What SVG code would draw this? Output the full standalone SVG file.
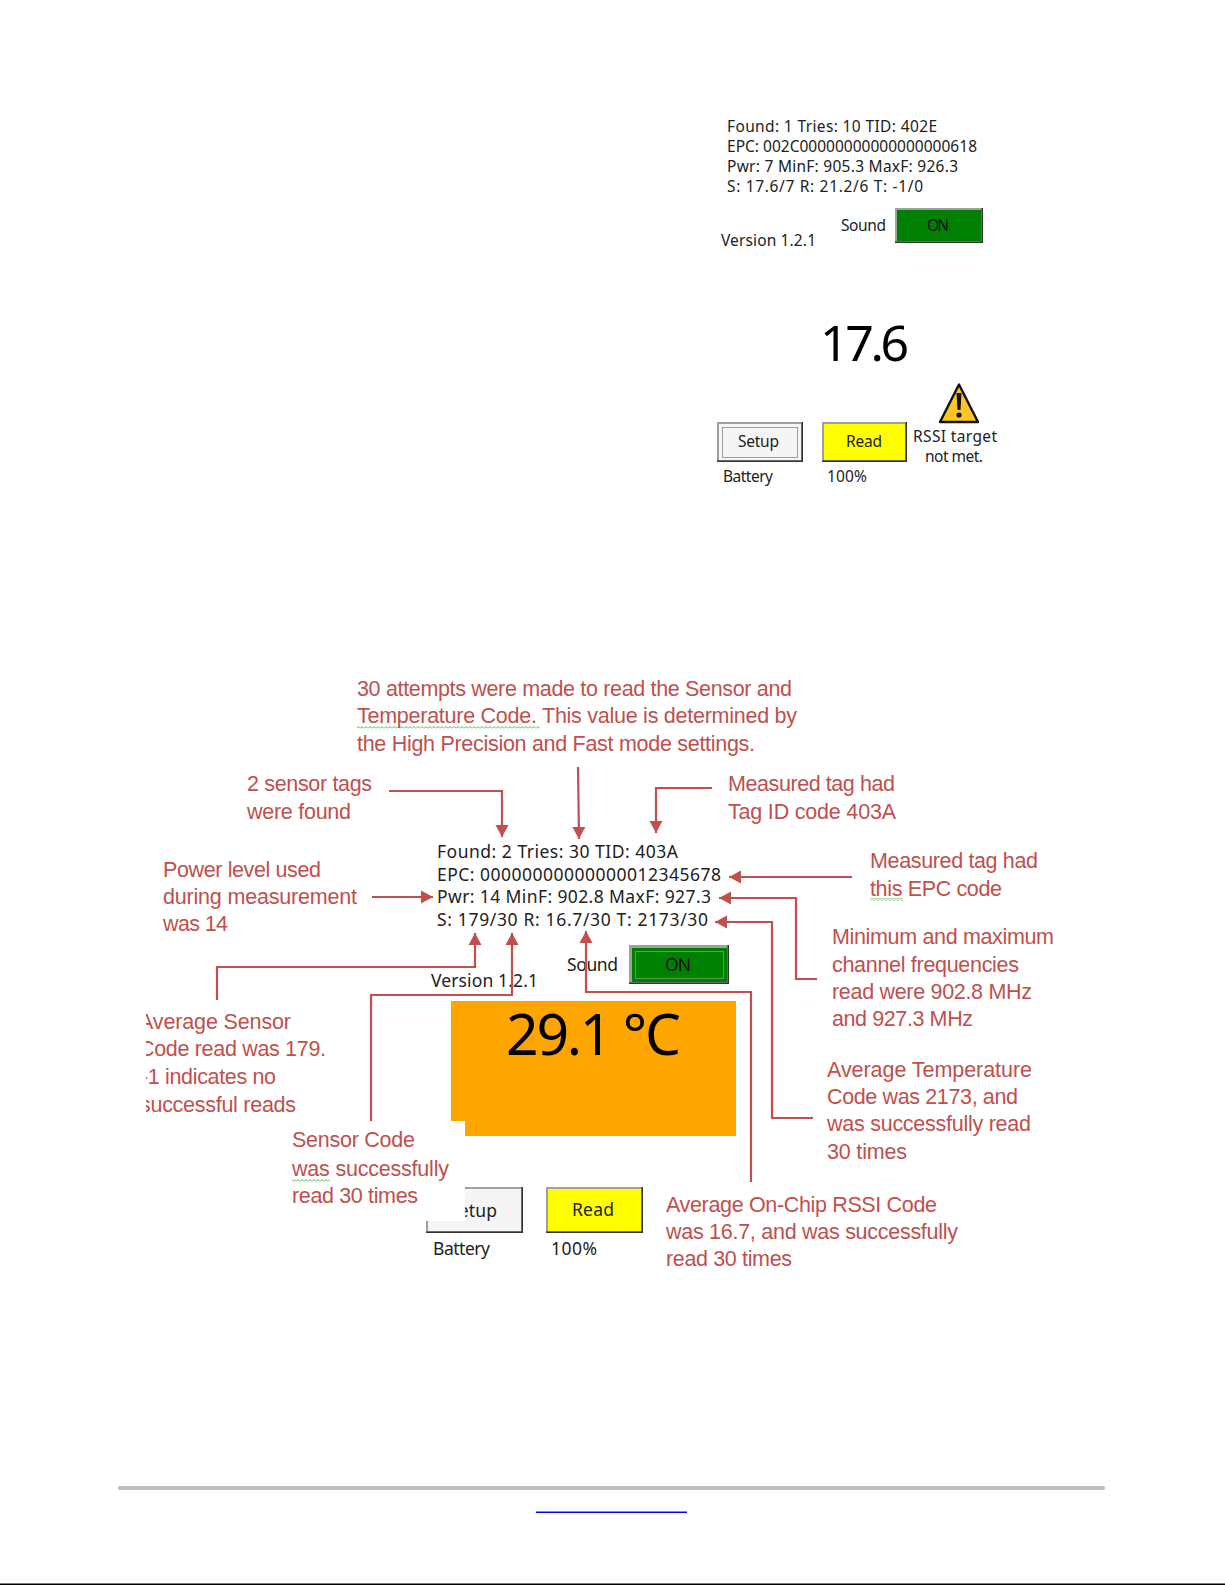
<svg xmlns="http://www.w3.org/2000/svg" width="1225" height="1585" viewBox="0 0 1225 1585">
<style>
text{font-family:"Noto Sans","DejaVu Sans",sans-serif}
.d{font-size:15.500px;fill:#222}
.d2{font-size:17.500px;fill:#222}
.n{font-family:"Liberation Sans",Arial,sans-serif;font-size:21.500px;fill:#c0504d}
.big{fill:#000}
.c{fill:none;stroke:#c0504d;stroke-width:2.200}
.dots{fill:none;stroke:#444;stroke-width:1;stroke-dasharray:1 1}
</style>
<defs>
<marker id="arrow" markerUnits="userSpaceOnUse" markerWidth="14" markerHeight="14" refX="12" refY="7" orient="auto">
<path d="M0,0.500L12,7L0,13.500Z" fill="#c0504d"/>
</marker>
<pattern id="sq" width="4" height="3" patternUnits="userSpaceOnUse">
<path d="M0,2.500L2,0.500L4,2.500" fill="none" stroke="#3cb043" stroke-width="0.900"/>
</pattern>
<clipPath id="leftclip"><rect x="146" y="1000" width="300" height="130"/></clipPath>
</defs>
<rect width="1225" height="1585" fill="#fff"/>

<g id="screen-top">
<text class="d" x="727" y="131.500" textLength="210">Found: 1 Tries: 10 TID: 402E</text>
<text class="d" x="727" y="151.500" textLength="250">EPC: 002C00000000000000000618</text>
<text class="d" x="727" y="171.500" textLength="231">Pwr: 7 MinF: 905.3 MaxF: 926.3</text>
<text class="d" x="727" y="191.500" textLength="196">S: 17.6/7 R: 21.2/6 T: -1/0</text>
<text class="d" x="841" y="230.500" textLength="45">Sound</text>
<text class="d" x="721" y="245.500" textLength="95">Version 1.2.1</text>
<g id="top-sound-btn">
<rect x="895" y="208" width="88" height="35" fill="#333"/>
<rect x="895" y="208" width="86.500" height="33.500" fill="#a0a0a0"/>
<rect x="897" y="210" width="84" height="31" fill="#008000"/>
<text class="d" x="927" y="230.500" textLength="22" style="fill:#111">ON</text>
</g>
<text class="big" x="820" y="361" font-size="50" textLength="89">17.6</text>
<g id="top-warning">
<path d="M959,384.500L940,422H978Z" fill="#fdc723" stroke="#111" stroke-width="2.400" stroke-linejoin="round"/>
<path d="M956.500,393H961.500L960.500,410H957.500Z" fill="#111"/>
<circle cx="959" cy="415" r="2.600" fill="#111"/>
</g>
<g id="top-setup-btn">
<rect x="717" y="422" width="86" height="40" fill="#333"/>
<rect x="717" y="422" width="84.500" height="38.500" fill="#a0a0a0"/>
<rect x="719" y="424" width="82" height="36" fill="#f5f5f5"/>
<rect x="722.500" y="427.500" width="75" height="30" class="dots"/>
<text class="d" x="738" y="446.500" textLength="41">Setup</text>
</g>
<g id="top-read-btn">
<rect x="822" y="422" width="85" height="40" fill="#333"/>
<rect x="822" y="422" width="83.500" height="38.500" fill="#a0a0a0"/>
<rect x="824" y="424" width="81" height="36" fill="#ffff00"/>
<text class="d" x="846" y="446.500" textLength="36">Read</text>
</g>
<text class="d" x="913" y="442" textLength="84">RSSI target</text>
<text class="d" x="925" y="462" textLength="58">not met.</text>
<text class="d" x="723" y="482" textLength="50">Battery</text>
<text class="d" x="827" y="482" textLength="40">100%</text>
</g>

<g id="screen-bottom">
<text class="d2" x="437" y="857.500" textLength="241">Found: 2 Tries: 30 TID: 403A</text>
<text class="d2" x="437" y="880.500" textLength="284">EPC: 00000000000000012345678</text>
<text class="d2" x="437" y="902.500" textLength="274">Pwr: 14 MinF: 902.8 MaxF: 927.3</text>
<text class="d2" x="437" y="926" textLength="271">S: 179/30 R: 16.7/30 T: 2173/30</text>
<text class="d2" x="431" y="987" textLength="107">Version 1.2.1</text>
<text class="d2" x="567" y="970.500" textLength="51">Sound</text>
<g id="bottom-sound-btn">
<rect x="629" y="945" width="100" height="39" fill="#333"/>
<rect x="629" y="945" width="98.500" height="37.500" fill="#a0a0a0"/>
<rect x="632" y="948" width="95" height="34" fill="#008000"/>
<rect x="635.500" y="951.500" width="88" height="27" class="dots" style="stroke:#9c9"/>
<text class="d2" x="665" y="970.500" textLength="26" style="fill:#111">ON</text>
</g>
<rect id="temp-panel" x="451" y="1001" width="285" height="135" fill="#ffa500"/>
<text class="big" x="506" y="1055" font-size="57" textLength="175">29.1 °C</text>
<g id="bottom-setup-btn">
<rect x="426" y="1187" width="97" height="46" fill="#333"/>
<rect x="426" y="1187" width="95.500" height="44.500" fill="#a0a0a0"/>
<rect x="428" y="1189" width="93" height="42" fill="#f5f5f5"/>
<text class="d2" x="449" y="1217" textLength="48">Setup</text>
</g>
<g id="bottom-read-btn">
<rect x="546" y="1187" width="97" height="46" fill="#333"/>
<rect x="546" y="1187" width="95.500" height="44.500" fill="#a0a0a0"/>
<rect x="548" y="1189" width="93" height="42" fill="#ffff00"/>
<text class="d2" x="572" y="1216" textLength="42">Read</text>
</g>
<text class="d2" x="433" y="1255" textLength="57">Battery</text>
<text class="d2" x="551" y="1255" textLength="46">100%</text>
<rect id="callout-mask" x="286" y="1121" width="179" height="100" fill="#fff"/>
</g>

<g id="connectors">
<path class="c" marker-end="url(#arrow)" d="M389,791H502V837"/>
<path class="c" marker-end="url(#arrow)" d="M578,767L579,839"/>
<path class="c" marker-end="url(#arrow)" d="M712,788H656V833"/>
<path class="c" marker-end="url(#arrow)" d="M372,897H433"/>
<path class="c" marker-end="url(#arrow)" d="M852,877H729"/>
<path class="c" marker-end="url(#arrow)" d="M817,979H796V898H719"/>
<path class="c" marker-end="url(#arrow)" d="M813,1118H772V922H715"/>
<path class="c" marker-end="url(#arrow)" d="M217,1000V967H475V933"/>
<path class="c" marker-end="url(#arrow)" d="M371,1121V995H512V933"/>
<path class="c" marker-end="url(#arrow)" d="M751,1182V992H586V931"/>
</g>

<g id="note-attempts">
<text class="n" x="357" y="696" textLength="435">30 attempts were made to read the Sensor and</text>
<text class="n" x="357" y="723" textLength="440">Temperature Code. This value is determined by</text>
<text class="n" x="357" y="751" textLength="398">the High Precision and Fast mode settings.</text>
<rect x="357" y="726" width="183" height="3" fill="url(#sq)"/>
</g>
<g id="note-found">
<text class="n" x="247" y="791" textLength="125">2 sensor tags</text>
<text class="n" x="247" y="819" textLength="104">were found</text>
</g>
<g id="note-tid">
<text class="n" x="728" y="791" textLength="167">Measured tag had</text>
<text class="n" x="728" y="819" textLength="168">Tag ID code 403A</text>
</g>
<g id="note-power">
<text class="n" x="163" y="877" textLength="158">Power level used</text>
<text class="n" x="163" y="904" textLength="194">during measurement</text>
<text class="n" x="163" y="931" textLength="65">was 14</text>
</g>
<g id="note-epc">
<text class="n" x="870" y="868" textLength="168">Measured tag had</text>
<text class="n" x="870" y="896" textLength="132">this EPC code</text>
<rect x="870" y="898" width="33" height="3" fill="url(#sq)"/>
</g>
<g id="note-freq">
<text class="n" x="832" y="944" textLength="222">Minimum and maximum</text>
<text class="n" x="832" y="972" textLength="187">channel frequencies</text>
<text class="n" x="832" y="999" textLength="200">read were 902.8 MHz</text>
<text class="n" x="832" y="1026" textLength="141">and 927.3 MHz</text>
</g>
<g id="note-sensor-avg" clip-path="url(#leftclip)">
<text class="n" x="139" y="1029" textLength="152">Average Sensor</text>
<text class="n" x="139" y="1056" textLength="187">Code read was 179.</text>
<text class="n" x="141" y="1084" textLength="135">-1 indicates no</text>
<text class="n" x="140" y="1112" textLength="156">successful reads</text>
</g>
<g id="note-sensor-count">
<text class="n" x="292" y="1147" textLength="123">Sensor Code</text>
<text class="n" x="292" y="1176" textLength="157">was successfully</text>
<text class="n" x="292" y="1203" textLength="126">read 30 times</text>
<rect x="292" y="1179" width="38" height="3" fill="url(#sq)"/>
</g>
<g id="note-temp">
<text class="n" x="827" y="1077" textLength="205">Average Temperature</text>
<text class="n" x="827" y="1104" textLength="191">Code was 2173, and</text>
<text class="n" x="827" y="1131" textLength="204">was successfully read</text>
<text class="n" x="827" y="1159" textLength="80">30 times</text>
</g>
<g id="note-rssi">
<text class="n" x="666" y="1212" textLength="271">Average On-Chip RSSI Code</text>
<text class="n" x="666" y="1239" textLength="292">was 16.7, and was successfully</text>
<text class="n" x="666" y="1266" textLength="126">read 30 times</text>
</g>

<g id="footer">
<rect x="118" y="1486" width="987" height="4" rx="2" fill="#bdbdbd"/>
<rect x="536" y="1511.500" width="151" height="1.500" fill="#0000ff"/>
<rect x="0" y="1583.500" width="1225" height="1.500" fill="#000"/>
</g>
</svg>
